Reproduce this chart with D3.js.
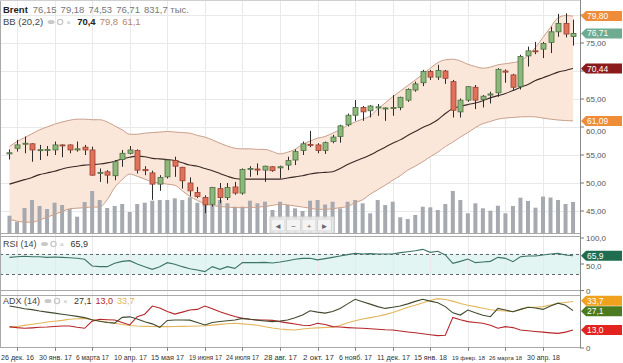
<!DOCTYPE html>
<html>
<head>
<meta charset="utf-8">
<script src="https://cdn.jsdelivr.net/npm/d3@7"></script>
<style>
  body { margin: 0; background: #fff; }
  svg text { font-family: "Liberation Sans", Arial, sans-serif; }
</style>
</head>
<body>
<script>
// weekly Brent candles, first week 19 Dec 2016
let firstWeek = new Date(2016, 11, 19);
let open  = [55.2,56.2,57.0,57.0,55.8,55.95,55.9,56.8,56.8,55.9,56.4,55.9,51.8,52.0,51.3,54.2,55.3,55.8,52.4,51.8,49.8,51.1,54.0,52.8,50.0,48.3,47.4,46.2,49.0,47.4,49.3,48.2,52.4,52.5,52.3,52.9,52.7,53.2,54.1,55.8,56.9,56.8,55.8,57.4,58.3,60.4,62.1,63.5,62.9,63.4,63.3,63.3,63.5,64.8,66.6,67.9,69.9,68.9,70.0,68.1,62.7,64.8,67.1,64.9,65.7,66.1,70.0,69.3,67.2,72.7,73.6,73.9,75.1,77.0,78.5,76.15];
let high  = [56.0,57.7,58.3,57.1,56.8,56.6,57.4,56.9,56.9,57.4,56.8,56.5,52.6,52.3,54.1,55.9,56.6,56.0,53.0,52.2,51.4,54.2,54.7,52.9,51.0,49.3,47.8,49.3,50.0,50.0,50.2,52.6,53.0,53.5,53.1,53.0,53.1,54.7,56.0,57.4,59.3,57.1,57.4,58.6,60.4,62.4,64.8,63.75,63.9,64.1,63.5,65.7,65.4,66.9,68.1,70.2,70.2,71.1,70.2,68.4,65.1,67.3,67.5,65.7,66.3,70.5,70.3,69.5,72.9,74.35,75.2,75.2,77.9,80.2,80.3,79.18];
let low   = [54.2,55.6,55.3,53.8,54.1,54.8,55.0,54.6,55.3,55.6,55.0,51.3,50.2,49.9,50.5,52.9,55.1,51.7,51.4,47.0,48.6,50.8,51.1,49.0,47.6,47.3,44.6,45.8,46.4,46.96,47.9,47.9,51.1,51.4,50.2,52.0,50.8,52.3,53.2,55.0,56.4,55.3,55.2,57.1,57.2,60.1,61.1,61.1,61.7,62.0,61.1,62.0,63.0,64.5,66.3,67.3,68.4,68.4,67.7,61.7,61.7,64.5,63.2,63.5,64.2,65.4,67.9,66.5,66.7,70.8,73.0,72.3,73.2,76.1,76.0,74.53];
let close = [55.4,56.8,57.1,55.9,55.95,56.0,56.8,56.7,55.9,56.1,55.9,51.4,51.9,51.4,53.8,55.3,55.9,52.3,52.2,49.8,51.0,54.1,53.0,50.4,48.6,47.6,46.1,49.2,47.4,49.2,48.2,52.4,52.6,52.3,53.0,52.2,52.9,54.0,55.6,57.0,56.8,55.8,57.2,58.2,60.2,62.1,63.5,62.7,63.75,63.6,63.4,63.5,65.3,66.7,67.7,69.9,68.9,70.1,68.7,63.0,64.8,67.2,64.8,65.5,65.9,70.3,69.8,67.1,72.6,73.6,73.5,74.9,77.0,78.5,76.6,76.71];
// volume, thousand contracts
let volume = [464,303,670,884,724,643,812,750,643,437,831,1126,884,670,724,777,563,777,812,866,884,884,930,884,957,812,750,750,884,796,705,705,866,796,839,616,839,750,662,590,866,884,764,839,662,839,884,796,528,884,750,839,421,375,482,705,689,616,777,1126,884,528,796,662,598,732,528,724,946,858,678,978,951,884,777,831.7];

// Bollinger (20,2)
let bbMid = [49.8,50.2,50.6,51.0,51.5,51.8,52.1,52.5,52.8,53.0,53.2,53.3,53.4,53.6,53.9,54.3,54.6,54.8,54.7,54.4,54.3,54.2,54.0,53.6,53.2,53.0,52.6,52.2,51.7,51.2,50.8,50.7,50.7,50.7,50.7,50.7,50.7,50.9,51.1,51.3,51.6,51.8,51.9,52.0,52.6,53.3,53.9,54.4,55.0,55.7,56.4,57.1,57.7,58.5,59.2,59.9,60.5,61.3,62.4,63.3,63.7,64.0,64.3,64.7,65.2,65.6,66.0,66.5,67.1,67.6,68.3,68.8,69.3,69.8,70.1,70.44];
let bbUp  = [56.5,57.4,58.1,58.8,59.5,60.0,60.5,60.9,61.2,61.4,61.4,61.3,61.3,60.9,60.2,59.5,58.7,58.7,58.9,59.0,59.1,59.2,59.1,59.0,58.9,58.5,58.2,57.7,57.1,56.6,56.2,56.1,56.1,56.0,56.0,55.6,55.2,55.5,56.0,56.9,57.5,58.0,58.3,58.9,59.5,60.3,60.9,61.4,62.0,63.2,64.3,65.4,66.4,67.4,68.4,69.4,70.5,71.5,72.0,72.1,71.8,71.2,70.8,70.5,70.7,71.1,71.3,71.5,71.8,72.8,74.2,76.0,77.8,79.5,79.9,79.8];
let bbLow = [43.5,43.2,43.0,43.0,43.4,43.9,44.4,44.9,45.4,45.5,45.6,45.7,45.7,47.0,49.2,50.6,51.6,51.2,50.7,50.2,50.0,49.8,49.6,48.6,47.6,46.9,46.3,46.0,45.8,45.7,45.6,45.6,45.6,45.7,45.8,46.0,46.2,46.1,45.9,45.7,45.5,45.3,45.3,45.4,45.6,45.8,46.5,47.0,48.0,48.8,49.6,50.5,51.3,52.3,53.0,53.8,54.7,55.5,56.5,57.3,58.2,59.0,59.9,60.6,61.0,61.4,61.6,61.7,61.8,61.85,61.8,61.6,61.4,61.25,61.15,61.09];

let rsi = [62.8,64,65,64,64,62.8,63.5,62.8,62,61,59,46.2,44.9,44.9,51.3,55,56.4,50,44.9,39.7,44.9,52.6,49.4,44.9,41,38.5,35.3,44.9,39.7,44.9,41.7,52.6,52.6,52.6,53.2,52,53.8,56.4,59,60.9,60.9,58,60.3,62.8,65.4,68,70.5,69.2,69.9,69.2,69.2,69.2,71.8,73.7,75.6,78.2,72.4,74.4,67.3,51.3,55.1,59.6,52.6,53.8,55.1,62.8,60.9,54.5,64.1,65.4,65.4,67.3,69.2,70.5,67.3,65.9];

let plusDI  = [30.5,29.5,28.5,27.8,26.8,26.0,25.3,24.5,23.7,22.9,22.0,20.5,19.4,18.5,18.0,22.2,22.6,21.0,19.0,17.5,15.0,20.0,20.3,20.3,20.2,18.5,16.7,18.5,19.2,19.8,20.3,21.5,20.8,20.2,19.6,19.1,19.6,20.3,22.0,24.0,27.0,26.0,25.3,26.5,28.7,32.0,35.3,33.5,31.8,30.0,28.7,29.5,30.4,32.0,33.8,35.3,34.0,32.8,30.0,25.5,23.9,27.5,25.5,23.8,22.7,28.7,27.5,26.3,28.0,29.5,29.0,28.0,30.5,32.5,31.0,27.1];
let minusDI = [15.5,14.8,14.3,14.6,15.0,15.2,15.6,15.9,16.0,15.0,14.3,19.5,20.8,20.5,20.3,18.5,16.7,22.7,24.5,30.4,29.0,26.5,24.6,26.0,27.5,28.0,30.4,28.5,26.3,24.5,22.8,21.5,20.8,20.3,20.3,20.0,19.1,18.2,17.4,16.5,16.3,17.9,17.0,15.5,15.2,14.8,14.5,14.3,14.0,13.6,13.2,13.0,12.3,11.6,11.0,10.3,9.6,9.0,9.2,22.2,20.5,19.1,18.5,17.9,16.5,14.3,15.5,14.8,13.0,12.5,12.0,11.5,11.0,10.6,11.5,13.0];
let adx     = [14.8,15.6,16.4,17.2,18.0,18.8,19.4,20.0,20.8,21.2,21.5,20.5,19.6,18.8,17.9,17.0,16.3,15.9,15.7,15.6,15.5,15.5,15.6,15.7,15.8,15.9,16.1,16.6,17.1,17.6,17.9,17.5,17.0,16.5,15.4,14.5,13.8,13.3,13.0,13.8,14.3,14.6,14.9,15.1,16.3,18.3,19.8,21.0,22.0,23.0,24.2,25.8,27.6,29.5,31.0,32.8,34.5,35.8,35.2,34.0,32.2,31.0,30.0,28.8,27.7,27.2,26.8,26.3,28.0,29.5,29.5,30.0,31.2,32.4,33.0,33.7];

let tickDates  = ["2016-12-26","2017-01-30","2017-03-06","2017-04-10","2017-05-15","2017-06-19","2017-07-24","2017-08-28","2017-10-02","2017-11-06","2017-12-11","2018-01-15","2018-02-19","2018-03-26","2018-04-30"];
let tickLabels = ["26 дек. 16","30 янв. 17","6 марта 17","10 апр. 17","15 мая 17","19 июня 17","24 июля 17","28 авг. 17","2 окт. 17","6 нояб. 17","11 дек. 17","15 янв. 18","19 февр. 18","26 марта 18","30 апр. 18"];
let priceTicks = [45,50,55,60,65,70,75,80];

let width = 623, height = 363;
let plotRight = 580;
let fmt = v => d3.format(".2f")(v).replace(".", ",");
let fmt1 = v => d3.format(".1f")(v).replace(".", ",");

let dates = open.map((d, i) => d3.timeDay.offset(firstWeek, 7 * i));
let parse = d3.timeParse("%Y-%m-%d");
let idx = d3.range(open.length);
let last = open.length - 1;

let x = d3.scaleTime()
    .domain([parse(tickDates[0]), parse(tickDates[tickDates.length - 1])])
    .range([17, 543]);
let y = d3.scaleLinear().domain([45, 80]).range([211, 15]);
let yVol = d3.scaleLinear().domain([0, d3.max(volume)]).range([233, 191]);
let yRsi = d3.scaleLinear().domain([0, 100]).range([290, 238]);
let yAdx = d3.scaleLinear().domain([0, 37.7]).range([348, 296]);

let svg = d3.select("body").append("svg")
    .attr("width", width)
    .attr("height", height);

svg.append("defs").append("clipPath").attr("id", "plot")
    .append("rect").attr("x", 0).attr("y", 0).attr("width", plotRight).attr("height", 348);

// background: grid + rsi zone
let bg = svg.append("g");
bg.append("rect").attr("x", 0).attr("width", plotRight)
    .attr("y", yRsi(70)).attr("height", yRsi(30) - yRsi(70)).attr("fill", "#e3f5f3");
let grid = bg.append("g").attr("stroke", "#e9e9e9").attr("shape-rendering", "crispEdges");
grid.selectAll("line.v").data(tickDates).enter().append("line")
    .attr("x1", d => Math.round(x(parse(d))) + 0.5).attr("x2", d => Math.round(x(parse(d))) + 0.5)
    .attr("y1", 0).attr("y2", 347);
grid.selectAll("line.h").data(priceTicks).enter().append("line")
    .attr("x1", 0).attr("x2", plotRight)
    .attr("y1", d => Math.round(y(d)) + 0.5).attr("y2", d => Math.round(y(d)) + 0.5);
[70, 30].forEach(v => {
    bg.append("line").attr("x1", 0).attr("x2", plotRight)
        .attr("y1", Math.round(yRsi(v)) + 0.5).attr("y2", Math.round(yRsi(v)) + 0.5)
        .attr("stroke", "#666").attr("stroke-dasharray", "3,3");
});

let plot = svg.append("g").attr("clip-path", "url(#plot)");

// bollinger fill
plot.append("path")
    .attr("fill", "#fbe6da")
    .attr("d", d3.area().x(i => x(dates[i])).y0(i => y(bbLow[i])).y1(i => y(bbUp[i])).curve(d3.curveMonotoneX)(idx));

// volume
plot.append("g").selectAll("rect").data(idx).enter().append("rect")
    .attr("x", i => x(dates[i]) - 2)
    .attr("width", 4)
    .attr("y", i => yVol(volume[i]))
    .attr("height", i => 233 - yVol(volume[i]))
    .attr("fill", "#a6aab0");

let bandLine = arr => d3.line().x(i => x(dates[i])).y(i => y(arr[i])).curve(d3.curveMonotoneX)(idx);
plot.append("path").attr("d", bandLine(bbUp)).attr("fill", "none").attr("stroke", "#c9a08c").attr("stroke-width", 1);
plot.append("path").attr("d", bandLine(bbLow)).attr("fill", "none").attr("stroke", "#c9a08c").attr("stroke-width", 1);
plot.append("path").attr("d", bandLine(bbMid)).attr("fill", "none").attr("stroke", "#3a2a26").attr("stroke-width", 1.1);

// candles
let candle = plot.append("g").selectAll("g").data(idx).enter().append("g");
candle.append("line")
    .attr("x1", i => Math.round(x(dates[i])) + 0.5).attr("x2", i => Math.round(x(dates[i])) + 0.5)
    .attr("y1", i => y(high[i])).attr("y2", i => y(low[i]))
    .attr("stroke", "#2b2b2b");
candle.append("rect")
    .attr("x", i => Math.round(x(dates[i])) - 2)
    .attr("width", 5)
    .attr("y", i => y(Math.max(open[i], close[i])))
    .attr("height", i => Math.max(1, Math.abs(y(open[i]) - y(close[i]))))
    .attr("fill", i => close[i] >= open[i] ? "#8cb87c" : "#e0725a")
    .attr("stroke", i => close[i] >= open[i] ? "#4d6e3f" : "#9a4030")
    .attr("stroke-width", 0.8);

// RSI
plot.append("path")
    .attr("d", d3.line().x(i => x(dates[i])).y(i => yRsi(rsi[i]))(idx))
    .attr("fill", "none").attr("stroke", "#3c7466").attr("stroke-width", 1.1);

// ADX
let adxLine = arr => d3.line().x(i => x(dates[i])).y(i => yAdx(arr[i]))(idx);
plot.append("path").attr("d", adxLine(adx)).attr("fill", "none").attr("stroke", "#e2b55a").attr("stroke-width", 1.1);
plot.append("path").attr("d", adxLine(minusDI)).attr("fill", "none").attr("stroke", "#b4262a").attr("stroke-width", 1.1);
plot.append("path").attr("d", adxLine(plusDI)).attr("fill", "none").attr("stroke", "#3f4a2e").attr("stroke-width", 1.1);

// panel borders
let sep = svg.append("g").attr("stroke", "#a9a9a9").attr("shape-rendering", "crispEdges");
[233.5, 236.5, 290.5, 295.5, 347.5].forEach(v => sep.append("line").attr("x1", 0).attr("x2", plotRight).attr("y1", v).attr("y2", v));
sep.append("line").attr("x1", 0.5).attr("x2", 0.5).attr("y1", 0).attr("y2", 348);
sep.append("line").attr("x1", 0).attr("x2", plotRight).attr("y1", 0.5).attr("y2", 0.5).attr("stroke", "#d0d0d0");
sep.append("line").attr("x1", plotRight + 0.5).attr("x2", plotRight + 0.5).attr("y1", 0).attr("y2", 348).attr("stroke", "#8a8a8a");

// scroll control
let nav = svg.append("g").attr("transform", "translate(270,217)");
nav.append("rect").attr("width", 64).attr("height", 16).attr("fill", "#fff").attr("fill-opacity", 0.75).attr("stroke", "#cfcfcf");
["◄", "−", "+", "►"].forEach((s, k) => {
    nav.append("rect").attr("x", 1 + k * 15.5).attr("y", 2).attr("width", 14).attr("height", 12)
        .attr("fill", "#f4f4f4").attr("stroke", "#d5d5d5");
    nav.append("text").attr("x", 8 + k * 15.5).attr("y", 11.5).attr("text-anchor", "middle")
        .attr("font-size", 8).attr("fill", "#666").text(s);
});

// x axis
let xa = svg.append("g").attr("fill", "#333");
tickDates.forEach((d, k) => {
    let px = Math.round(x(parse(d))) + 0.5;
    xa.append("line").attr("x1", px).attr("x2", px).attr("y1", 347).attr("y2", 351).attr("stroke", "#888");
    let t = xa.append("text").attr("x", Math.max(px, 17.5)).attr("y", 360)
        .attr("text-anchor", "middle").attr("font-size", 8).text(tickLabels[k]);
    // shrink the longer labels so neighbours don't collide
    let w = t.node().getComputedTextLength();
    if (w > 33) t.attr("font-size", (8 * 33 / w).toFixed(2));
});

// badges (value labels on the right), spread so they don't overlap
let badges = [
    {v: y(bbUp[last]), t: fmt(bbUp[last]), c: "#ef8c37", p: 0},
    {v: y(close[last]), t: fmt(close[last]), c: "#6fab90", p: 0},
    {v: y(bbMid[last]), t: fmt(bbMid[last]), c: "#8b1b1b", p: 0},
    {v: y(bbLow[last]), t: fmt(bbLow[last]), c: "#ef8c37", p: 0},
    {v: yRsi(rsi[last]), t: fmt1(rsi[last]), c: "#1f6d50", p: 1},
    {v: yAdx(adx[last]), t: fmt1(adx[last]), c: "#f0a21e", p: 2},
    {v: yAdx(plusDI[last]), t: fmt1(plusDI[last]), c: "#4b7a1f", p: 2},
    {v: yAdx(minusDI[last]), t: fmt1(minusDI[last]), c: "#e3231f", p: 2}
];
badges.sort((a, b) => a.v - b.v);
for (let k = 1; k < badges.length; k++) {
    if (badges[k].p === badges[k - 1].p && badges[k].v - badges[k - 1].v < 10.5) {
        let mid = (badges[k].v + badges[k - 1].v) / 2;
        badges[k - 1].v = mid - 5.25;
        badges[k].v = mid + 5.25;
    }
}

// right axis
let ra = svg.append("g").attr("font-size", 8).attr("fill", "#555");
let rTick = (py, label) => {
    ra.append("line").attr("x1", plotRight).attr("x2", plotRight + 4).attr("y1", py).attr("y2", py).attr("stroke", "#777");
    let ty = py;
    let near = badges.filter(b => Math.abs(b.v - py) < 11);
    if (near.length) {
        if (near.some(b => Math.abs(b.v - py) < 5)) return;
        let b = near[0];
        ty = b.v < py ? b.v + 10 : b.v - 10;
    }
    ra.append("text").attr("x", plotRight + 6).attr("y", ty + 3).text(label);
};
priceTicks.forEach(v => rTick(y(v), fmt(v)));
rTick(yRsi(100), "100,0");
rTick(yRsi(50), "50,0");
rTick(yRsi(0) + 0.5, "0");
rTick(yAdx(0), "0");

badges.forEach(b => {
    let g = svg.append("g").attr("transform", `translate(${plotRight + 1},${b.v})`);
    g.append("path").attr("d", "M0,0L5,-5L41,-5L41,5L5,5Z").attr("fill", b.c);
    g.append("text").attr("x", 6).attr("y", 3).attr("font-size", 8.5).attr("fill", "#fff").text(b.t);
});

// legends
let legend = (py, items, size) => {
    let g = svg.append("g").attr("font-size", size);
    let px = 3;
    items.forEach(it => {
        if (it.icons) {
            g.append("ellipse").attr("cx", px + 4).attr("cy", py - 3).attr("rx", 3.5).attr("ry", 2).attr("fill", "#c8c8c8");
            g.append("circle").attr("cx", px + 13).attr("cy", py - 3).attr("r", 2.6).attr("fill", "none").attr("stroke", "#c8c8c8").attr("stroke-width", 1.3);
            g.append("text").attr("x", px + 19).attr("y", py).attr("font-size", 8).attr("fill", "#bbb").text("×");
            px += 30;
            return;
        }
        let t = g.append("text").attr("x", px).attr("y", py).attr("fill", it.c)
            .attr("font-weight", it.b ? "bold" : null).text(it.t);
        px += t.node().getComputedTextLength() + (it.gap || 4);
    });
};
legend(13, [
    {t: "Brent", c: "#222", b: true, gap: 5},
    {t: fmt(open[last]), c: "#777"}, {t: fmt(high[last]), c: "#777"},
    {t: fmt(low[last]), c: "#777"}, {t: fmt(close[last]), c: "#777"},
    {t: fmt1(volume[last]) + " тыс.", c: "#777"}
], 9.5);
legend(25, [
    {t: "BB (20,2)", c: "#444"}, {icons: true},
    {t: fmt1(bbMid[last]), c: "#222", b: true}, {t: fmt1(bbUp[last]), c: "#b7846c"}, {t: fmt1(bbLow[last]), c: "#b7846c"}
], 9.5);
legend(247, [{t: "RSI (14)", c: "#444"}, {icons: true}, {t: fmt1(rsi[last]), c: "#333"}], 9);
legend(304, [
    {t: "ADX (14)", c: "#444"}, {icons: true},
    {t: fmt1(plusDI[last]), c: "#333"}, {t: fmt1(minusDI[last]), c: "#b4262a"}, {t: fmt1(adx[last]), c: "#e2b55a"}
], 9);
</script>
</body>
</html>
